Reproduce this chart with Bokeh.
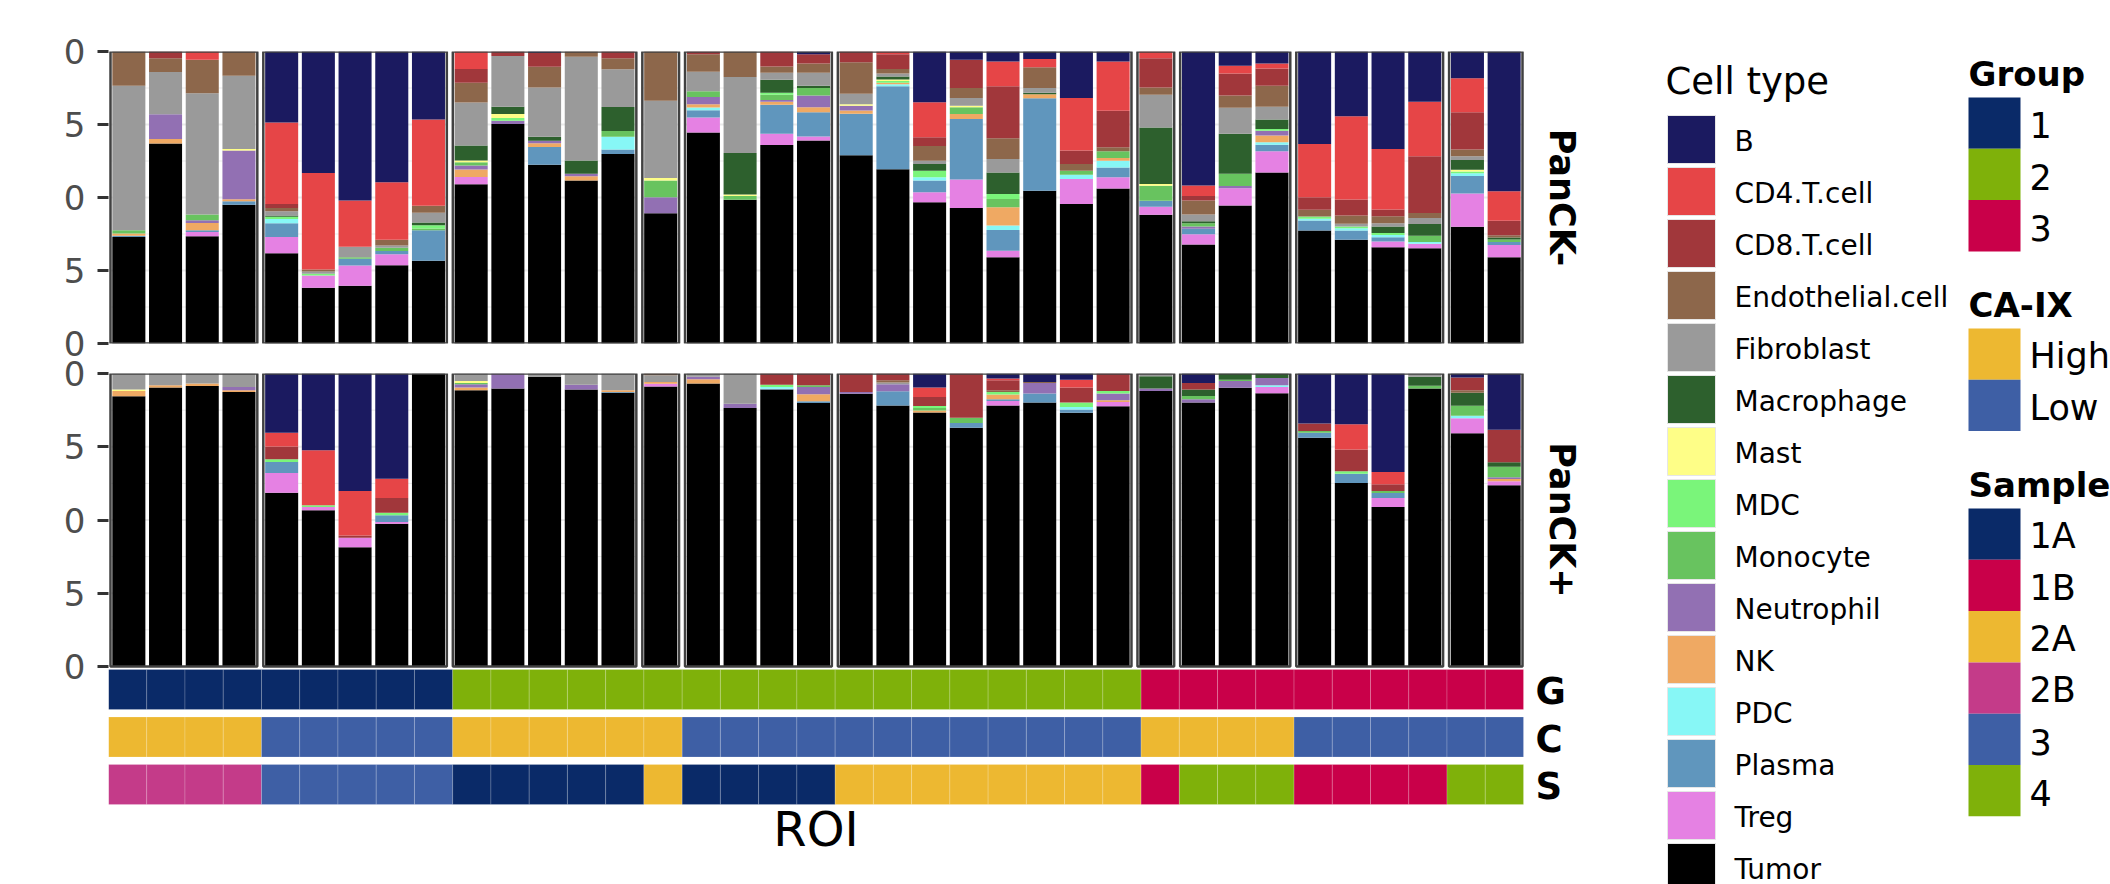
import math
from bokeh.plotting import figure
from bokeh.models import Range1d, FixedTicker, CustomJSTickFormatter, ColumnDataSource
from bokeh.layouts import row, column
from bokeh.embed import file_html
from bokeh.resources import INLINE
from bokeh.core.properties import value

FONT = "DejaVu Sans"

# ---------------- data ----------------
cell_types = ["B", "CD4.T.cell", "CD8.T.cell", "Endothelial.cell", "Fibroblast", "Macrophage",
              "Mast", "MDC", "Monocyte", "Neutrophil", "NK", "PDC", "Plasma", "Treg", "Tumor"]
cell_colors = ["#1B1A60", "#E64547", "#A1373B", "#8D674B", "#9A9A9A", "#2D602D",
               "#FEFE87", "#7AF57A", "#68C35F", "#9270B3", "#EFA963", "#87F7F6",
               "#6096BD", "#E581E3", "#000000"]

panel_n = [4, 5, 5, 1, 4, 8, 1, 3, 4, 2]
panel_group = ["1", "1", "2", "2", "2", "2", "3", "3", "3", "3"]
panel_caix = ["High", "Low", "High", "High", "Low", "Low", "High", "High", "Low", "Low"]
panel_sample = ["2B", "3", "1A", "2A", "1A", "2A", "1B", "4", "1B", "4"]

group_levels = ["1", "2", "3"]
group_colors = ["#0A2A68", "#7FB10A", "#C90049"]
caix_levels = ["High", "Low"]
caix_colors = ["#EDB831", "#3E5FA5"]
sample_levels = ["1A", "1B", "2A", "2B", "3", "4"]
sample_colors = ["#0A2A68", "#C90049", "#EDB831", "#C43B89", "#3E5FA5", "#7FB10A"]

# PanCK- (top panel) proportions per ROI
neg_B = [0, 0, 0, 0, .243, .416, .510, .448, .233, 0, 0, .005, 0, 0, 0, 0, 0, 0, .009,
         0, 0, .174, .028, .034, .026, .159, .034, 0, .459, .049, .041, .317, .222, .334, .172, .092, .479]
neg_CD4 = [0, 0, .028, 0, .279, .331, .159, .197, .295, .060, 0, 0, 0, 0, 0, 0, 0, 0, 0,
           0, .009, .120, 0, .085, .028, .180, .169, .023, .036, .026, .017, .182, .285, .207, .187, .116, .101]
neg_CD8 = [0, .023, 0, 0, .014, 0, 0, 0, 0, .047, .015, .047, 0, .023, 0, .009, 0, .051, .032,
           .037, .051, .030, .097, .178, 0, .046, .125, .100, .015, .076, .059, .043, .055, .023, .194, .128, .049]
neg_Endo = [.117, .047, .115, .083, .011, .006, 0, .019, .024, .068, 0, .071, .018, .038, .169, .060, .087, .022, .032,
            .108, .015, .050, .034, .071, .071, .023, .014, .025, .048, .042, .072, .023, .028, .024, .017, .023, .008]
neg_Fibro = [.495, .145, .415, .251, .015, .008, .036, .008, .034, .147, .174, .169, .355, .129, .264, .067, .261, .024, .044,
             .036, .011, .011, .027, .046, .016, 0, 0, .112, .023, .089, .044, 0, .009, .011, .021, .013, 0]
neg_Macro = [0, 0, 0, 0, .004, 0, 0, 0, .009, .051, .025, .014, .046, .082, 0, 0, .142, .044, .008,
             0, .010, .023, 0, .074, .005, 0, 0, .194, .007, .137, .032, 0, 0, .023, .040, .033, .007]
neg_Mast = [0, 0, 0, .005, 0, 0, 0, 0, 0, .006, .014, 0, 0, 0, .009, 0, .005, 0, 0,
            .005, .005, 0, .005, 0, 0, 0, 0, .006, 0, 0, 0, 0, 0, 0, 0, .006, 0]
neg_MDC = [0, 0, 0, 0, .008, .006, 0, 0, .011, 0, .009, 0, 0, 0, 0, 0, 0, .007, 0,
           0, .006, .023, 0, .017, 0, 0, 0, 0, 0, 0, .006, .008, .006, .006, 0, .006, 0]
neg_Mono = [.011, 0, .020, 0, 0, 0, .005, .011, .006, .011, 0, 0, 0, .020, .057, .020, .013, .018, .026,
            0, 0, 0, .023, .028, 0, .014, .023, .051, .011, .042, 0, 0, 0, 0, .021, 0, .008]
neg_Neut = [0, .085, .009, .167, 0, 0, 0, 0, 0, .014, .011, .008, .008, 0, .055, .025, 0, .006, .040,
            .016, 0, 0, 0, 0, 0, 0, 0, 0, .008, .007, .017, 0, 0, 0, 0, 0, 0]
neg_NK = [.008, .015, .025, .007, 0, 0, 0, 0, 0, .026, 0, .013, .015, 0, 0, .011, 0, .010, .017,
          .011, .005, 0, .017, .063, .014, 0, .009, 0, 0, 0, .023, 0, 0, 0, 0, 0, 0]
neg_PDC = [0, 0, 0, 0, .014, 0, 0, 0, 0, 0, 0, 0, 0, .044, 0, .009, 0, 0, 0,
           0, .007, .011, 0, .015, 0, .015, .023, 0, 0, 0, .008, .006, .008, .008, .006, .009, 0]
neg_Plasma = [.004, 0, .006, .012, .047, 0, .023, .011, .105, 0, 0, .061, 0, .015, 0, .025, 0, .100, .083,
              .142, .284, .040, .207, .071, .317, 0, .034, .021, .019, 0, .023, .034, .032, .015, 0, .060, .011]
neg_Treg = [0, 0, .015, 0, .056, .042, .069, .038, 0, .025, 0, 0, 0, 0, 0, .051, 0, .038, .014,
            0, 0, .034, .098, .023, 0, .085, .038, .027, .035, .059, .072, 0, 0, .019, .016, .114, .042]
neg_Tumor = [.365, .685, .367, .475, .309, .191, .198, .268, .283, .545, .752, .612, .558, .649, .446, .723, .492, .680, .695,
             .645, .597, .484, .464, .295, .523, .478, .531, .441, .339, .473, .586, .387, .355, .330, .326, .400, .295]

# PanCK+ (bottom panel) proportions per ROI
pos_B = [0, 0, 0, 0, .202, .262, .401, .359, 0, 0, 0, 0, 0, 0, 0, 0, 0, 0, 0,
         0, 0, .048, 0, .017, .029, .021, 0, 0, .032, 0, 0, .171, .173, .336, 0, .014, .192]
pos_CD4 = [0, 0, 0, 0, .047, .188, .152, .066, 0, 0, 0, 0, 0, 0, 0, 0, 0, 0, 0,
           0, 0, .032, 0, .006, 0, .027, 0, 0, 0, 0, 0, 0, .086, .042, 0, 0, 0]
pos_CD8 = [0, 0, 0, 0, .044, 0, .008, .050, 0, 0, 0, 0, 0, 0, 0, 0, 0, .038, .040,
           .063, .023, .031, .151, .034, 0, .051, .060, 0, .023, 0, 0, .025, .075, .023, 0, .043, .111]
pos_Endo = [0, 0, 0, 0, 0, 0, 0, 0, 0, 0, 0, 0, 0, 0, .006, 0, 0, 0, 0,
            0, .008, 0, 0, .006, .003, 0, 0, 0, 0, 0, 0, 0, 0, 0, 0, .009, 0]
pos_Fibro = [.055, .040, .034, .046, 0, 0, 0, 0, 0, .026, 0, .011, .038, .057, .023, .011, .103, 0, 0,
             0, .006, 0, 0, 0, 0, 0, 0, .009, 0, 0, 0, 0, 0, 0, .011, 0, 0]
pos_Macro = [0, 0, 0, 0, 0, 0, 0, 0, 0, 0, 0, 0, 0, 0, 0, 0, 0, 0, 0,
             0, 0, 0, 0, 0, 0, 0, 0, .042, .022, .021, .015, 0, 0, 0, .031, .044, .015]
pos_Mast = [.005, 0, 0, 0, 0, 0, 0, 0, 0, .006, 0, 0, 0, 0, 0, 0, 0, 0, 0,
            0, 0, 0, 0, 0, 0, 0, 0, 0, 0, 0, 0, 0, 0, 0, 0, 0, 0]
pos_MDC = [0, 0, 0, 0, .009, .006, 0, .009, 0, 0, 0, 0, 0, 0, 0, 0, 0, .008, 0,
           0, 0, .007, 0, .009, 0, .015, .008, 0, 0, 0, 0, 0, .008, 0, 0, 0, 0]
pos_Mono = [0, 0, 0, 0, 0, 0, 0, 0, 0, .005, 0, 0, 0, 0, 0, 0, 0, 0, .006,
            0, 0, .008, .018, 0, 0, 0, 0, 0, .011, .005, 0, .006, 0, .007, .009, .034, .036]
pos_Neut = [0, 0, 0, .011, 0, 0, 0, 0, 0, .011, .051, 0, .017, 0, 0, .009, .015, 0, .025,
            .006, .024, 0, 0, 0, .036, 0, .023, .009, .011, .023, .025, 0, 0, 0, 0, 0, .006]
pos_NK = [.018, .008, .009, .006, 0, 0, 0, 0, 0, .009, 0, 0, 0, .006, .006, .014, 0, 0, .024,
          0, 0, .007, 0, .016, 0, 0, .006, 0, 0, 0, 0, 0, 0, 0, 0, 0, .008]
pos_PDC = [0, 0, 0, 0, 0, 0, 0, 0, 0, 0, 0, 0, 0, 0, 0, 0, 0, .006, 0,
           0, 0, 0, 0, 0, 0, .009, 0, 0, 0, 0, .006, 0, 0, 0, 0, .009, 0]
pos_Plasma = [0, 0, 0, 0, .038, 0, 0, .023, 0, 0, 0, 0, 0, .003, 0, 0, 0, .003, .006,
              0, .048, 0, .016, .006, .031, .011, 0, 0, 0, 0, 0, .017, .032, .017, 0, 0, 0]
pos_Treg = [0, 0, 0, 0, .067, .011, .032, .006, 0, 0, 0, 0, 0, 0, .009, 0, 0, 0, 0,
            0, 0, 0, 0, .015, 0, 0, .015, 0, 0, 0, .021, 0, 0, .031, 0, .051, .013]
pos_Tumor = [.922, .952, .957, .937, .593, .533, .407, .487, 1.0, .943, .949, .989, .945, .934, .956, .966, .882, .945, .899,
             .931, .891, .867, .815, .891, .901, .866, .888, .940, .901, .951, .933, .781, .626, .544, .949, .796, .619]

neg_values = [neg_B, neg_CD4, neg_CD8, neg_Endo, neg_Fibro, neg_Macro, neg_Mast, neg_MDC,
              neg_Mono, neg_Neut, neg_NK, neg_PDC, neg_Plasma, neg_Treg, neg_Tumor]
pos_values = [pos_B, pos_CD4, pos_CD8, pos_Endo, pos_Fibro, pos_Macro, pos_Mast, pos_MDC,
              pos_Mono, pos_Neut, pos_NK, pos_PDC, pos_Plasma, pos_Treg, pos_Tumor]
strip_labels = ["PanCK-", "PanCK+"]
y_ticks = [0, 0.25, 0.5, 0.75, 1.0]

# ---------------- layout constants (page pixels) ----------------
LEFT_W, LEG_W = 1608, 502
H_TOP, H_BOT = 358, 526
FRAME_L = 108
BAR_PX0, BAR_PX1 = 110, 1522
GAP = 0.1635
BAR_W = 0.9
BASE_FIX = 0.30          # baseline correction (fraction of font size)

bar_x, panel_lo, panel_hi = [], [], []
off = 0.0
for n in panel_n:
    panel_lo.append(off)
    for i in range(n):
        bar_x.append(off + i + 0.5)
    off += n
    panel_hi.append(off)
    off += GAP
total_units = panel_hi[-1]
scale = (BAR_PX1 - BAR_PX0) / total_units
frame_w = LEFT_W - FRAME_L
x_start = -(BAR_PX0 - FRAME_L) / scale
x_end = x_start + frame_w / scale
STRIP_FS = 35
strip_x = x_start + (1551 + BASE_FIX * STRIP_FS - FRAME_L) / scale


def style_yaxis(p):
    ax = p.yaxis[0]
    ax.ticker = FixedTicker(ticks=y_ticks)
    ax.formatter = CustomJSTickFormatter(code="return tick.toFixed(2).slice(-1);")
    ax.axis_line_color = None
    ax.major_tick_out = 11
    ax.major_tick_in = 0
    ax.minor_tick_out = 0
    ax.minor_tick_in = 0
    ax.major_tick_line_color = "#333333"
    ax.major_tick_line_width = 3
    ax.major_label_text_font = FONT
    ax.major_label_text_font_size = "34px"
    ax.major_label_text_color = "#4D4D4D"
    ax.major_label_standoff = 12


def draw_panel(p, values, label):
    gx0, gx1, gy, gw = [], [], [], []
    for lo, hi in zip(panel_lo, panel_hi):
        for t in [0.125, 0.25, 0.375, 0.5, 0.625, 0.75, 0.875]:
            gx0.append(lo)
            gx1.append(hi)
            gy.append(t)
            gw.append(2.0 if t in (0.25, 0.5, 0.75) else 1.0)
    p.segment(x0=gx0, y0=gy, x1=gx1, y1=gy, line_color="#EBEBEB", line_width=gw)
    data = {"x": bar_x}
    for ct, vals in zip(cell_types, values):
        data[ct] = vals
    src = ColumnDataSource(data)
    p.vbar_stack(cell_types[::-1], x="x", width=BAR_W, fill_color=cell_colors[::-1],
                 line_color=None, source=src)
    p.quad(left=panel_lo, right=panel_hi, bottom=0, top=1, fill_color=None,
           line_color="#414141", line_width=2.5)
    p.text(x=[strip_x], y=[0.5], text=[label], angle=-math.pi / 2, text_align="center",
           text_baseline="alphabetic", text_font=value(FONT), text_font_style="bold",
           text_font_size=f"{STRIP_FS}px", text_color="black")


# ---------------- top panel ----------------
p_top = figure(width=LEFT_W, height=H_TOP, x_range=Range1d(x_start, x_end), y_range=Range1d(0, 1),
               output_backend="svg", toolbar_location=None, x_axis_location=None, title=None,
               min_border_left=FRAME_L, min_border_right=0, min_border_top=51, min_border_bottom=15)
p_top.outline_line_color = None
p_top.grid.visible = False
style_yaxis(p_top)
draw_panel(p_top, neg_values, strip_labels[0])

# ---------------- bottom panel + annotation rows ----------------
BOT_TOP = 15
BOT_FRAME_H = H_BOT - BOT_TOP
BOT_PANEL_PX = 293
p_bot = figure(width=LEFT_W, height=H_BOT, x_range=Range1d(x_start, x_end),
               y_range=Range1d(1 - BOT_FRAME_H / BOT_PANEL_PX, 1),
               output_backend="svg", toolbar_location=None, x_axis_location=None, title=None,
               min_border_left=FRAME_L, min_border_right=0, min_border_top=BOT_TOP, min_border_bottom=0)
p_bot.outline_line_color = None
p_bot.grid.visible = False
style_yaxis(p_bot)
draw_panel(p_bot, pos_values, strip_labels[1])

TILE_PX = (1523 - FRAME_L) / sum(panel_n)
ROW_PX = 47.5
S_ROW = 784 - H_TOP            # S-row centre, px from top of this figure
p_bot.extra_x_ranges = {"ann_x": Range1d(0, frame_w / TILE_PX)}
p_bot.extra_y_ranges = {"ann_y": Range1d((S_ROW - H_BOT) / ROW_PX, (S_ROW - BOT_TOP) / ROW_PX)}

tile_x, tile_y, tile_c = [], [], []
idx = 0
for k, n in enumerate(panel_n):
    gc = group_colors[group_levels.index(panel_group[k])]
    cc = caix_colors[caix_levels.index(panel_caix[k])]
    sc = sample_colors[sample_levels.index(panel_sample[k])]
    for i in range(n):
        for yrow, c in ((2, gc), (1, cc), (0, sc)):
            tile_x.append(idx + 0.5)
            tile_y.append(yrow)
            tile_c.append(c)
        idx += 1
p_bot.rect(x=tile_x, y=tile_y, width=1, height=40 / ROW_PX, fill_color=tile_c,
           line_color="white", line_alpha=0.18, line_width=1,
           x_range_name="ann_x", y_range_name="ann_y")

row_labels = ["G", "C", "S"]
LAB_FS = 37
lab_dy = (0.365 - BASE_FIX) * LAB_FS / ROW_PX
p_bot.text(x=[(1535 - FRAME_L) / TILE_PX] * 3, y=[2 - lab_dy, 1 - lab_dy, 0 - lab_dy],
           text=row_labels, text_align="left", text_baseline="alphabetic",
           text_font=value(FONT), text_font_style="bold", text_font_size=f"{LAB_FS}px",
           text_color="black", x_range_name="ann_x", y_range_name="ann_y")
ROI_FS = 48
p_bot.text(x=[sum(panel_n) / 2], y=[(S_ROW - (843 - H_TOP) + BASE_FIX * ROI_FS) / ROW_PX], text=["ROI"],
           text_align="center", text_baseline="alphabetic", text_font=value(FONT),
           text_font_size=f"{ROI_FS}px", text_color="black", x_range_name="ann_x", y_range_name="ann_y")

# ---------------- legend ----------------
p_leg = figure(width=LEG_W, height=H_TOP + H_BOT, x_range=Range1d(1608, 2110), y_range=Range1d(884, 0),
               output_backend="svg", toolbar_location=None, x_axis_location=None, y_axis_location=None,
               title=None, min_border_left=0, min_border_right=0, min_border_top=0, min_border_bottom=0)
p_leg.outline_line_color = None
p_leg.grid.visible = False


def ltext(x, base, txt, fs, bold=False):
    p_leg.text(x=[x], y=[base - BASE_FIX * fs], text=[txt], text_align="left", text_baseline="alphabetic",
               text_font=value(FONT), text_font_style="bold" if bold else "normal",
               text_font_size=f"{fs}px", text_color="black")


ltext(1665, 92, "Cell type", 37)
ct_y = [139 + 52 * i for i in range(len(cell_types))]
p_leg.rect(x=[1691] * len(cell_types), y=ct_y, width=48, height=48, fill_color=cell_colors,
           line_color="#E6E6E6", line_width=1)
for yy, ct in zip(ct_y, cell_types):
    ltext(1734, yy + 0.365 * 28, ct, 28)


def side_legend(title, title_base, top, levels, colors):
    ltext(1968, title_base, title, 34, bold=True)
    h = 51.3
    ys = [top + h * (i + 0.5) for i in range(len(levels))]
    p_leg.rect(x=[1994] * len(levels), y=ys, width=52, height=h, fill_color=colors, line_color=None)
    for yy, lv in zip(ys, levels):
        ltext(2029, yy + 0.365 * 35, lv, 35)


side_legend("Group", 84, 97, group_levels, group_colors)
side_legend("CA-IX", 315, 328, caix_levels, caix_colors)
side_legend("Sample", 495, 508, sample_levels, sample_colors)

layout = row(column(p_top, p_bot, spacing=0), p_leg, spacing=0)
open("out.html", "w").write(file_html(layout, INLINE))
